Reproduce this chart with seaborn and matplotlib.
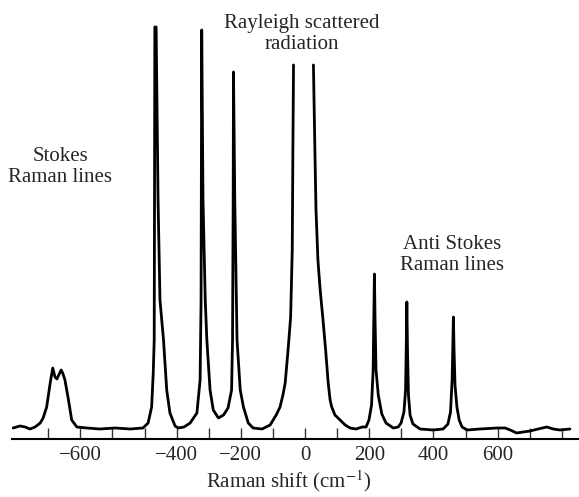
import pandas as pd
import matplotlib
matplotlib.use("Agg")
import matplotlib.pyplot as plt
import seaborn as sns

# Raman spectrum: shift (cm^-1) and intensity (arb. units)
# the Rayleigh line is cut at the top, so the curve is split in two segments
shift_left = [-910, -888, -872, -857, -841, -825, -816, -805, -794, -786,
              -779, -773, -760, -755, -748, -737, -727, -711, -680, -639,
              -592, -545, -505, -489, -478, -473, -470, -469, -468, -464,
              -458, -452, -441, -431, -421, -405, -395, -377, -358, -337,
              -327, -324, -322, -318, -311, -306, -296, -286, -270, -254,
              -240, -229, -226, -224, -223, -219, -212, -202, -192, -177,
              -162, -134, -109, -90, -78, -69, -62, -53, -45, -40,
              -38, -36]
inten_left = [2, 4, 3, 1, 3, 7, 12, 23, 47, 62,
              53, 51, 60, 57, 50, 30, 10, 3, 2, 1,
              2, 1, 2, 7, 23, 57, 90, 230, 403, 403,
              230, 130, 90, 40, 17, 4, 2, 3, 7, 17,
              50, 130, 400, 230, 130, 90, 40, 20, 12, 15,
              22, 40, 90, 230, 358, 230, 90, 40, 23, 7,
              2, 1, 5, 15, 23, 35, 47, 80, 113, 180,
              280, 365]

shift_right = [26, 30, 34, 40, 47, 55, 64, 72, 78, 83, 93, 109,
               125, 140, 159, 178, 190, 199, 207, 212, 214, 216,
               218, 221, 228, 239, 252, 275, 290, 299, 308, 313,
               315, 317, 319, 322, 327, 336, 358, 399, 430, 445,
               453, 458, 460, 462, 464, 467, 473, 480, 489, 505,
               545, 598, 623, 639, 659, 679, 701, 726, 753, 773,
               794, 825]
inten_right = [365, 290, 220, 170, 140, 113, 80, 47, 30, 23, 15, 10,
               5, 2, 1, 3, 3, 10, 25, 60, 110, 156,
               110, 60, 35, 16, 7, 2, 3, 7, 18, 40,
               80, 128, 80, 35, 15, 6, 1, 0, 1, 6,
               18, 50, 80, 113, 80, 45, 23, 10, 3, 0,
               1, 2, 2, 0, -3, -2, -1, 1, 3, 1,
               0, 1]

tick_positions = [-800, -700, -600, -500, -400, -300, -200, -100, 0,
                  100, 200, 300, 400, 500, 600, 700, 800]
tick_labels = ["", "\u2212600", "", "", "\u2212400", "", "\u2212200", "", "0",
               "", "200", "", "400", "", "600", "", ""]

spectrum = pd.DataFrame({
    "shift": shift_left + shift_right,
    "intensity": inten_left + inten_right,
    "segment": ["stokes"] * len(shift_left) + ["anti"] * len(shift_right),
})

sns.set_theme(style="white")
plt.rcParams["font.family"] = ["Liberation Serif", "DejaVu Serif"]
plt.rcParams["mathtext.fontset"] = "stix"

fig = plt.figure(figsize=(5.79, 4.97), dpi=100)
ax = fig.add_axes([0.0207, 0.1167, 0.9775, 0.8431])

sns.lineplot(data=spectrum, x="shift", y="intensity", units="segment",
             estimator=None, sort=False, color="black", linewidth=2.0, ax=ax)

ax.set_xlim(-913, 850)
ax.set_ylim(-9, 410)
ax.set_xticks(tick_positions)
ax.set_xticklabels(tick_labels, fontsize=15)
ax.set_yticks([])
ax.tick_params(axis="x", direction="in", length=8, width=1.0, color="#333333",
               pad=5, bottom=True)
for side in ["top", "left", "right"]:
    ax.spines[side].set_visible(False)
ax.spines["bottom"].set_linewidth(1.5)
ax.spines["bottom"].set_color("black")

ax.set_ylabel("")
ax.set_xlabel("Raman shift (cm$^{-1}$)", fontsize=15, labelpad=4)
ax.xaxis.set_label_coords(0.49, -0.07)

ax.text(-763, 263, "Stokes\nRaman lines", fontsize=15, ha="center", va="center",
        multialignment="center")
ax.text(458, 175, "Anti Stokes\nRaman lines", fontsize=15, ha="center",
        va="center", multialignment="center")
ax.text(-9, 396, "Rayleigh scattered\nradiation", fontsize=15, ha="center",
        va="center", multialignment="center")

fig.savefig("out.png", dpi=100)
